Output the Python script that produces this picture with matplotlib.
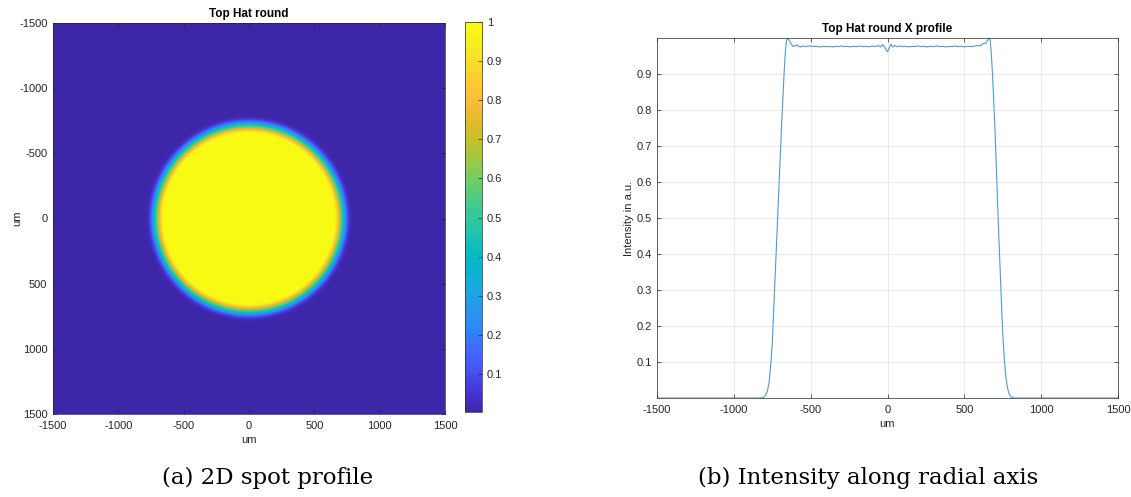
import numpy as np
import matplotlib
matplotlib.use('Agg')
import matplotlib.pyplot as plt
from matplotlib.colors import LinearSegmentedColormap

plt.rcParams['font.family'] = ['Liberation Sans', 'DejaVu Sans']
plt.rcParams['axes.unicode_minus'] = False

# profile along x (um) and intensity (a.u.)
x_um = [-1500, -1000, -830, -812, -800, -790, -780, -770, -760, -750, -740, -730,
        -720, -710, -700, -690, -680, -672, -665, -658, -652, -645, -635, -625,
        -612, -600, -590, -578, -565, -550, -535, -520, -500, -480, -460, -440,
        -420, -400, -380, -360, -340, -320, -300, -280, -260, -240, -220, -200,
        -180, -160, -140, -120, -100, -80, -60, -45, -32, -20, -10, 0, 10, 22,
        34, 48, 62, 80, 100, 120, 140, 160, 180, 200, 220, 240, 260, 280, 300,
        320, 340, 360, 380, 400, 420, 440, 460, 480, 500, 520, 540, 560, 580,
        600, 615, 628, 640, 650, 656, 662, 668, 675, 682, 690, 700, 710, 720,
        730, 740, 750, 760, 770, 780, 790, 800, 812, 830, 1000, 1500]
intensity = [0.0, 0.0, 0.0, 0.001, 0.004, 0.01, 0.022, 0.045, 0.09, 0.15, 0.25, 0.35,
             0.45, 0.55, 0.65, 0.75, 0.84, 0.91, 0.96, 0.99, 1.0, 0.997, 0.99, 0.982,
             0.976, 0.979, 0.981, 0.977, 0.975, 0.978, 0.976, 0.977, 0.978, 0.976, 0.977, 0.975,
             0.977, 0.976, 0.977, 0.975, 0.977, 0.976, 0.978, 0.976, 0.977, 0.975, 0.977, 0.976,
             0.978, 0.976, 0.977, 0.975, 0.978, 0.976, 0.979, 0.975, 0.982, 0.976, 0.968, 0.962, 0.971, 0.983,
             0.975, 0.979, 0.976, 0.978, 0.976, 0.977, 0.975, 0.977, 0.976, 0.978, 0.976, 0.977, 0.975, 0.977, 0.976,
             0.978, 0.976, 0.977, 0.975, 0.977, 0.976, 0.978, 0.976, 0.977, 0.975, 0.977, 0.976, 0.977, 0.979,
             0.978, 0.982, 0.985, 0.986, 0.992, 0.997, 1.0, 0.995, 0.96, 0.91, 0.84, 0.74, 0.62, 0.5,
             0.39, 0.28, 0.18, 0.11, 0.06, 0.03, 0.013, 0.005, 0.001, 0.0, 0.0, 0.0]

cbar_ticks = [0.1, 0.2, 0.3, 0.4, 0.5, 0.6, 0.7, 0.8, 0.9, 1]
cbar_labels = ['0.1', '0.2', '0.3', '0.4', '0.5', '0.6', '0.7', '0.8', '0.9', '1']
um_ticks = [-1500, -1000, -500, 0, 500, 1000, 1500]
prof_yticks = [0.1, 0.2, 0.3, 0.4, 0.5, 0.6, 0.7, 0.8, 0.9]

# parula-like colour map
parula = LinearSegmentedColormap.from_list('parula', [
    (0.2422, 0.1504, 0.6603), (0.2706, 0.2147, 0.8364), (0.2810, 0.3228, 0.9579),
    (0.2602, 0.4123, 0.9952), (0.1786, 0.5289, 0.9682), (0.1540, 0.5902, 0.9218),
    (0.1113, 0.6635, 0.8763), (0.0297, 0.7082, 0.8163), (0.0433, 0.7411, 0.7394),
    (0.1717, 0.7670, 0.6554), (0.2470, 0.7918, 0.5567), (0.3909, 0.8029, 0.4354),
    (0.5616, 0.7942, 0.3045), (0.7242, 0.7698, 0.1910), (0.8634, 0.7406, 0.1596),
    (0.9728, 0.7298, 0.2394), (0.9952, 0.7893, 0.2028), (0.9676, 0.8639, 0.1643),
    (0.9628, 0.9373, 0.1265), (0.9769, 0.9839, 0.0805)])

W, H = 1131, 497
fig = plt.figure(figsize=(W / 100, H / 100), dpi=100)

def box(l, t, r, b):
    return [l / W, 1 - b / H, (r - l) / W, (b - t) / H]

tick_kw = dict(direction='in', labelsize=8, colors='#262626', length=3, width=0.5,
               top=True, right=True)

# 2D spot, built from the radial profile
g = np.linspace(-1500, 1500, 401)
xx, yy = np.meshgrid(g, g)
rr = np.sqrt(xx ** 2 + yy ** 2)
spot = np.interp(-rr, x_um[:21], intensity[:21])

ax1 = fig.add_axes(box(53, 23, 445, 414))
im = ax1.imshow(spot, cmap=parula, extent=[-1500, 1500, 1500, -1500],
                vmin=0.003, vmax=1, aspect='auto', interpolation='bilinear')
ax1.set_xticks(um_ticks)
ax1.set_yticks(um_ticks)
ax1.tick_params(**tick_kw)
ax1.tick_params(axis='y', pad=4)
ax1.tick_params(axis='x', pad=5)
ax1.set_xlabel('um', fontsize=8, color='#262626', labelpad=3)
ax1.set_ylabel('um', fontsize=8, color='#262626', labelpad=-2)
ax1.set_title('Top Hat round', fontsize=8.5, fontweight='bold', pad=4)
for s in ax1.spines.values():
    s.set_color('#262626')
    s.set_linewidth(0.5)

cax = fig.add_axes(box(465, 22, 482, 412))
cb = fig.colorbar(im, cax=cax, ticks=cbar_ticks)
cb.ax.set_yticklabels(cbar_labels)
cb.ax.tick_params(direction='in', labelsize=8, colors='#262626', length=3, width=0.5)
cb.outline.set_linewidth(0.5)
cb.outline.set_edgecolor('#262626')

# x profile
ax2 = fig.add_axes(box(657, 38, 1118, 398))
ax2.plot(x_um, intensity, color='#4d9bd6', lw=0.8)
ax2.set_xlim(-1500, 1500)
ax2.set_ylim(0, 1.0)
ax2.set_xticks(um_ticks)
ax2.set_yticks(prof_yticks)
ax2.grid(True, color='#e6e6e6', lw=0.6)
ax2.tick_params(**tick_kw)
ax2.tick_params(axis='x', pad=5)
ax2.set_xlabel('um', fontsize=8, color='#262626', labelpad=3)
ax2.set_ylabel('Intensity in a.u.', fontsize=8, color='#262626', labelpad=2)
ax2.set_title('Top Hat round X profile', fontsize=8.5, fontweight='bold', pad=4)
for s in ax2.spines.values():
    s.set_color('#262626')
    s.set_linewidth(0.5)

fig.text(268 / W, 1 - 478 / H, '(a) 2D spot profile', ha='center', va='center',
         fontsize=16.5, family='DejaVu Serif')
fig.text(868 / W, 1 - 478 / H, '(b) Intensity along radial axis', ha='center', va='center',
         fontsize=16.5, family='DejaVu Serif')

fig.savefig('out.png', dpi=100)
